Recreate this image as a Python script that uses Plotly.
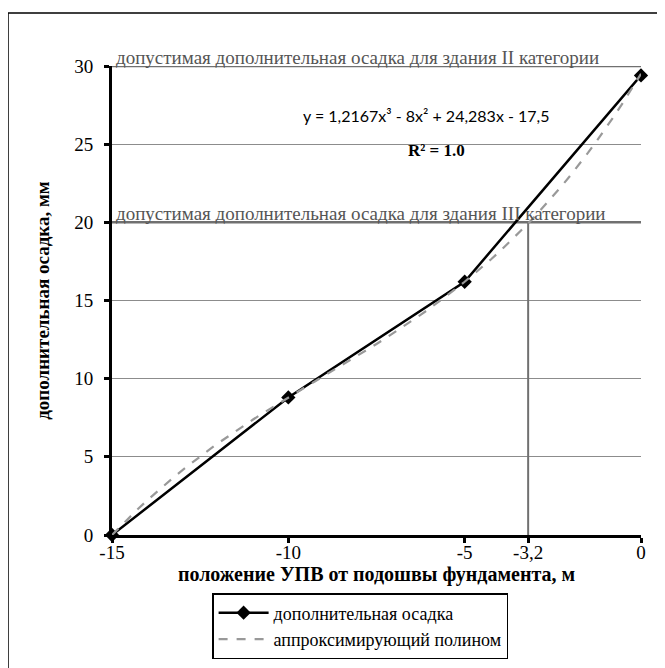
import numpy as np
import plotly.graph_objects as go

# measured points
x_pos = [-15, -10, -5, 0]
settlement = [0, 8.8, 16.2, 29.4]

# trendline (Excel polynomial, x = point index 1..4)
poly_coef = [1.2167, -8, 24.283, -17.5]

limit_cat2 = 30
limit_cat3 = 20
x_cross = -3.2

x_ticks = [-15, -10, -5, -3.2, 0]
x_ticktext = ['-15', '-10', '-5', '-3,2', '0']
y_ticks = [0, 5, 10, 15, 20, 25, 30]

serif = 'Liberation Serif, Times New Roman, serif'
ref_grey = '#707070'

xs = np.linspace(-15, 0, 61)
idx = 1 + (xs + 15) / 5
ys = np.polyval(poly_coef, idx)

fig = go.Figure()

# allowable settlement lines + the -3,2 drop line
for yl in (limit_cat2, limit_cat3):
    fig.add_trace(go.Scatter(x=[x_pos[0], x_pos[-1]], y=[yl, yl], mode='lines',
                             line=dict(color=ref_grey, width=2.5), showlegend=False,
                             hoverinfo='skip', cliponaxis=False))
fig.add_trace(go.Scatter(x=[x_cross, x_cross], y=[0, limit_cat3], mode='lines',
                         line=dict(color=ref_grey, width=2), showlegend=False,
                         hoverinfo='skip', cliponaxis=False))

fig.add_trace(go.Scatter(
    x=x_pos, y=settlement, mode='lines+markers', name='дополнительная осадка',
    line=dict(color='black', width=2.5),
    marker=dict(symbol='diamond', size=11, color='black'),
    cliponaxis=False))
fig.add_trace(go.Scatter(
    x=xs, y=ys, mode='lines', name='аппроксимирующий полином',
    line=dict(color='#999999', width=2.2, dash='dash'),
    cliponaxis=False))

fig.add_annotation(x=-15, y=limit_cat2, xref='x', yref='y', xanchor='left', yanchor='bottom',
                   text='допустимая дополнительная осадка для здания II категории',
                   showarrow=False, xshift=2, yshift=-4,
                   font=dict(family=serif, size=19, color='#555555'))
fig.add_annotation(x=-15, y=limit_cat3, xref='x', yref='y', xanchor='left', yanchor='bottom',
                   text='допустимая дополнительная осадка для здания III категории',
                   showarrow=False, xshift=2, yshift=-4,
                   font=dict(family=serif, size=19, color='#555555'))
fig.add_annotation(x=0.594, y=0.895, xref='paper', yref='paper', xanchor='center', yanchor='middle',
                   text='y = 1,2167x³ - 8x² + 24,283x - 17,5', showarrow=False,
                   font=dict(family='Lato, Open Sans, sans-serif', size=16, color='black'))
fig.add_annotation(x=0.614, y=0.82, xref='paper', yref='paper', xanchor='center', yanchor='middle',
                   text='<b>R² = 1.0</b>', showarrow=False,
                   font=dict(family=serif, size=17, color='black'))

# outer frame
fig.add_shape(type='rect', xref='paper', yref='paper',
              x0=-104 / 529, x1=1.2, y0=-1.2, y1=(469 + 53) / 469,
              line=dict(color='black', width=1.5), fillcolor='rgba(0,0,0,0)')

fig.update_xaxes(range=[-15, 0], tickvals=x_ticks, ticktext=x_ticktext,
                 showgrid=False, zeroline=False, showline=True, linecolor='black', linewidth=3,
                 ticks='outside', ticklen=5, tickwidth=3, tickcolor='black', ticklabelstandoff=-7,
                 tickfont=dict(family=serif, size=19, color='black'),
                 title=dict(text='<b>положение УПВ от подошвы фундамента, м</b>',
                            font=dict(family=serif, size=20, color='black'), standoff=4))
fig.update_yaxes(range=[0, 30], tickvals=y_ticks,
                 showgrid=True, gridcolor='#8c8c8c', gridwidth=1, zeroline=False,
                 showline=True, linecolor='black', linewidth=3,
                 ticks='outside', ticklen=5, tickwidth=3, tickcolor='black', ticklabelstandoff=7,
                 tickfont=dict(family=serif, size=19, color='black'),
                 title=dict(text='<b>дополнительная осадка, мм</b>',
                            font=dict(family=serif, size=19, color='black'), standoff=20))

fig.update_layout(
    width=657, height=660,
    margin=dict(l=104, r=24, t=58, b=133, autoexpand=False),
    paper_bgcolor='white', plot_bgcolor='white',
    legend=dict(x=0.469, y=1 - 585 / 660, xanchor='center', yanchor='top', yref='container',
                bordercolor='black', borderwidth=1.5, bgcolor='white', itemwidth=50,
                font=dict(family=serif, size=18, color='black'), tracegroupgap=0),
    showlegend=True,
)

fig.write_html('out.html')
